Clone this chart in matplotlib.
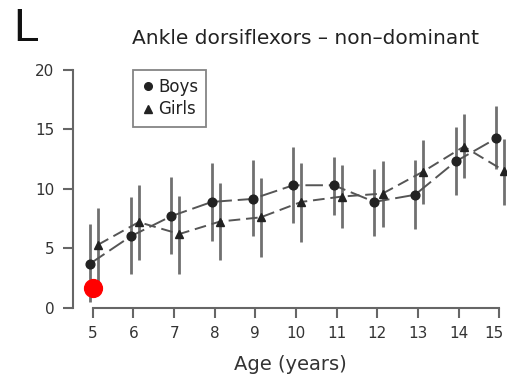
import matplotlib
matplotlib.use("Agg")
import matplotlib.pyplot as plt
import matplotlib.transforms as mtransforms
from matplotlib.lines import Line2D

plt.rcParams['font.family'] = ['DejaVu Sans']

# data
ages = [5, 6, 7, 8, 9, 10, 11, 12, 13, 14, 15]

boys_mean = [3.7, 6.0, 7.7, 8.9, 9.15, 10.3, 10.3, 8.9, 9.5, 12.3, 14.25]
boys_low = [0.5, 2.8, 4.5, 5.6, 6.0, 7.1, 7.8, 6.0, 6.6, 9.5, 11.7]
boys_high = [7.0, 9.3, 11.0, 12.2, 12.4, 13.5, 12.7, 11.7, 12.4, 15.2, 17.0]

girls_mean = [5.3, 7.2, 6.2, 7.25, 7.6, 8.9, 9.35, 9.6, 11.45, 13.55, 11.5]
girls_low = [2.0, 4.0, 2.8, 4.0, 4.3, 5.5, 6.7, 6.8, 8.7, 10.9, 8.6]
girls_high = [8.4, 10.3, 9.4, 10.5, 10.9, 12.2, 12.0, 12.3, 14.1, 16.3, 14.2]

marked_age = [5]
marked_value = [1.65]

yticks = [0, 5, 10, 15, 20]

fig = plt.figure(figsize=(5.07, 3.84), dpi=100)
ax = fig.add_axes([0.1446, 0.1971, 0.856, 0.627])

boys_x = [a - 0.07 for a in ages]
girls_x = [a + 0.13 for a in ages]

ax.vlines(boys_x, boys_low, boys_high, color='#707070', lw=2)
ax.vlines(girls_x, girls_low, girls_high, color='#707070', lw=2)

ax.plot(boys_x, boys_mean, color='#555555', lw=1.4, dashes=(9, 3))
ax.plot(girls_x, girls_mean, color='#555555', lw=1.4, dashes=(6, 3))

ax.plot(boys_x, boys_mean, 'o', color='#222222', ms=6.3, ls='none')
ax.plot(girls_x, girls_mean, '^', color='#222222', ms=6, ls='none')

ax.scatter(marked_age, marked_value, s=165, color='#ff0000', zorder=5)

ax.set_xlim(4.52, 15.2)
ax.set_ylim(-0.05, 20.2)

for side in ['top', 'right']:
    ax.spines[side].set_visible(False)
ax.spines['left'].set_bounds(0, 20)
ax.spines['bottom'].set_bounds(5, 15)
for side in ['left', 'bottom']:
    ax.spines[side].set_color('#666666')
    ax.spines[side].set_linewidth(1.5)

ax.set_xticks(ages)
ax.set_yticks(yticks)
ax.tick_params(axis='both', colors='#666666', width=1.5, length=7.5,
               labelcolor='#333333', labelsize=11)
ax.tick_params(axis='x', pad=5)
ax.tick_params(axis='y', pad=6)

# keep the last x label inside the picture
last = ax.get_xticklabels()[-1]
last.set_transform(last.get_transform() +
                   mtransforms.ScaledTranslation(-5 / 100, 0, fig.dpi_scale_trans))

ax.set_xlabel('Age (years)', fontsize=14, color='#333333', labelpad=10)

legend_handles = [
    Line2D([], [], marker='o', color='#222222', ls='none', ms=5.5),
    Line2D([], [], marker='^', color='#222222', ls='none', ms=5.5),
]
leg = ax.legend(legend_handles, ['Boys', 'Girls'], loc='upper left',
                bbox_to_anchor=(0.1375, 0.99), borderaxespad=0,
                fontsize=12, frameon=True, fancybox=False,
                handlelength=0.8, handletextpad=0.2,
                borderpad=0.5, labelspacing=0.25)
leg.get_frame().set_edgecolor('#666666')
leg.get_frame().set_linewidth(1.3)
for t in leg.get_texts():
    t.set_color('#222222')

fig.text(0.026, 0.893, 'L', fontsize=33, color='#111111',
         family='Liberation Sans', va='baseline')
fig.text(0.26, 0.885, 'Ankle dorsiflexors \u2013 non\u2013dominant',
         fontsize=14.5, color='#222222', va='baseline')

fig.savefig('out.png', dpi=100)
